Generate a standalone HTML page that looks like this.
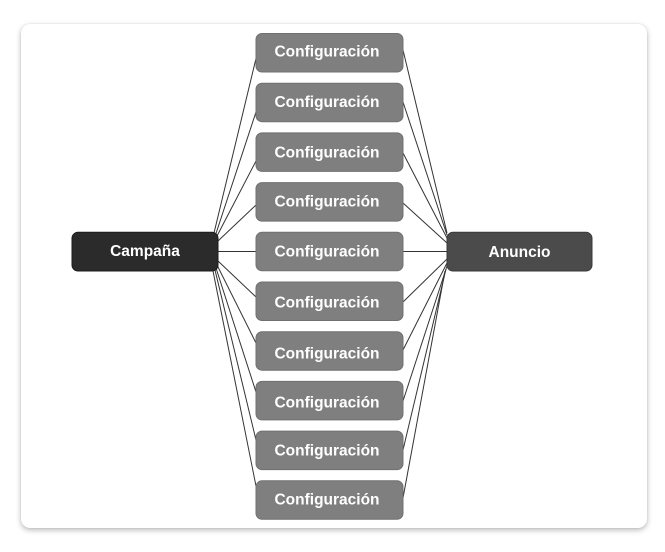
<!DOCTYPE html>
<html>
<head>
<meta charset="utf-8">
<style>
  html, body { margin:0; padding:0; background:#ffffff; }
  body { width:665px; height:552px; position:relative; overflow:hidden; }
  .card { position:absolute; left:21px; top:24px; width:626px; height:504px; background:#fff; border-radius:9px; box-shadow:0 2px 6px rgba(0,0,0,0.28), 0 0 1px rgba(0,0,0,0.15); }
  svg { position:absolute; left:0; top:0; }
  text { font-family:"Liberation Sans", Arial, sans-serif; font-weight:bold; font-size:15.5px; fill:#ffffff; text-anchor:middle; }
</style>
</head>
<body>
<div class="card"></div>
<svg width="665" height="552" viewBox="0 0 665 552" xmlns="http://www.w3.org/2000/svg">
  <g stroke="#333" stroke-width="1" fill="none">
    <line x1="214" y1="233" x2="256" y2="58.5"/>
    <line x1="216" y1="233.5" x2="256" y2="112"/>
    <line x1="217" y1="236" x2="256" y2="161"/>
    <line x1="218" y1="241" x2="256" y2="205"/>
    <line x1="218" y1="251.5" x2="256" y2="251.5"/>
    <line x1="218" y1="261" x2="256" y2="297"/>
    <line x1="217" y1="265" x2="256" y2="343"/>
    <line x1="216" y1="268" x2="256" y2="392"/>
    <line x1="215" y1="270" x2="256" y2="440"/>
    <line x1="213" y1="271" x2="256" y2="486"/>

    <line x1="403" y1="50" x2="447" y2="233"/>
    <line x1="403" y1="102" x2="447" y2="235"/>
    <line x1="403" y1="153" x2="447" y2="238"/>
    <line x1="403" y1="203" x2="447" y2="243"/>
    <line x1="403" y1="251.5" x2="447" y2="251.5"/>
    <line x1="403" y1="302" x2="447" y2="259"/>
    <line x1="403" y1="350" x2="447" y2="263"/>
    <line x1="403" y1="401" x2="447" y2="266"/>
    <line x1="403" y1="450" x2="446" y2="269"/>
    <line x1="403" y1="498" x2="445" y2="271"/>
  </g>

  <!-- Campaña -->
  <rect x="72" y="232.3" width="146" height="38.7" rx="6" fill="#2b2b2b" stroke="#1c1c1c" stroke-width="1"/>
  <text x="145" y="256">Campaña</text>

  <!-- Anuncio -->
  <rect x="447" y="232.3" width="145" height="38.7" rx="6" fill="#4b4b4b" stroke="#3a3a3a" stroke-width="1"/>
  <text x="519.5" y="257">Anuncio</text>

  <!-- Configuración boxes -->
  <g fill="#7f7f7f" stroke="#707070" stroke-width="1">
    <rect x="256" y="33.5" width="147" height="38.5" rx="6"/>
    <rect x="256" y="83.2" width="147" height="38.5" rx="6"/>
    <rect x="256" y="132.9" width="147" height="38.5" rx="6"/>
    <rect x="256" y="182.6" width="147" height="38.5" rx="6"/>
    <rect x="256" y="232.3" width="147" height="38.5" rx="6"/>
    <rect x="256" y="282" width="147" height="38.5" rx="6"/>
    <rect x="256" y="331.7" width="147" height="38.5" rx="6"/>
    <rect x="256" y="381.4" width="147" height="38.5" rx="6"/>
    <rect x="256" y="431.1" width="147" height="38.5" rx="6"/>
    <rect x="256" y="480.8" width="147" height="38.5" rx="6"/>
  </g>
  <text x="327" y="56.5">Configuración</text>
  <text x="327" y="107">Configuración</text>
  <text x="327" y="157.5">Configuración</text>
  <text x="327" y="206.5">Configuración</text>
  <text x="327" y="256.5">Configuración</text>
  <text x="327" y="307.5">Configuración</text>
  <text x="327" y="358.5">Configuración</text>
  <text x="327" y="407.5">Configuración</text>
  <text x="327" y="455.5">Configuración</text>
  <text x="327" y="504.5">Configuración</text>
</svg>
</body>
</html>
